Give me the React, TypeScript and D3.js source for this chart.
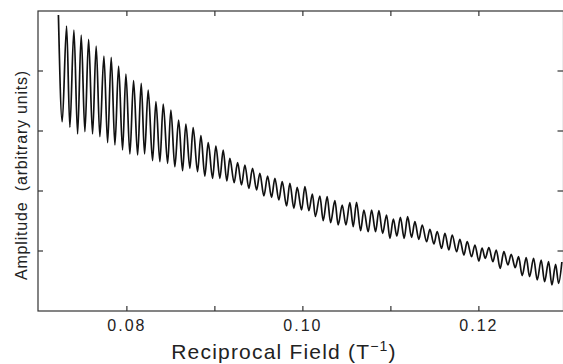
import { line, curveMonotoneX, scaleLinear } from "d3";

// extrema of the oscillation trace (x in T^-1, y arbitrary)
const startPoint: [number, number] = [0.07222, 4.933];
const endPoint: [number, number] = [0.12943, 0.817];

const troughX = [
  0.07265, 0.07352, 0.0744, 0.07523, 0.0761, 0.07693, 0.07781, 0.07864, 0.07951, 0.08034,
  0.08122, 0.08201, 0.08292, 0.08375, 0.08463, 0.08545, 0.08633, 0.08716, 0.08803, 0.08886,
  0.08974, 0.09057, 0.09136, 0.09219, 0.09303, 0.09386, 0.09474, 0.09557, 0.09644, 0.09727,
  0.09815, 0.09898, 0.09985, 0.10068, 0.10142, 0.10231, 0.10315, 0.10401, 0.10489, 0.10572,
  0.10656, 0.10742, 0.10826, 0.10906, 0.10989, 0.11068, 0.11151, 0.11235, 0.11318, 0.11406,
  0.11489, 0.11576, 0.11659, 0.11747, 0.1183, 0.11917, 0.12, 0.12072, 0.12159, 0.12242,
  0.1233, 0.12413, 0.12492, 0.12576, 0.12663, 0.12747, 0.1283, 0.12906,
];
const troughY = [
  3.155, 3.062, 2.95, 2.988, 2.95, 2.905, 2.805, 2.767, 2.683, 2.617,
  2.6, 2.617, 2.505, 2.488, 2.462, 2.405, 2.338, 2.378, 2.322, 2.25,
  2.212, 2.212, 2.167, 2.138, 2.1, 2.045, 2.017, 1.917, 1.895, 1.85,
  1.75, 1.712, 1.683, 1.672, 1.575, 1.505, 1.472, 1.433, 1.433, 1.405,
  1.338, 1.322, 1.322, 1.295, 1.212, 1.25, 1.212, 1.228, 1.195, 1.155,
  1.117, 1.045, 1.017, 0.988, 0.933, 0.905, 0.833, 0.878, 0.822, 0.712,
  0.767, 0.722, 0.588, 0.572, 0.517, 0.488, 0.433, 0.462,
];

const peakX = [
  0.07315, 0.07398, 0.07481, 0.07565, 0.07651, 0.07739, 0.07822, 0.07906, 0.07989, 0.08076,
  0.08163, 0.08242, 0.0833, 0.08413, 0.085, 0.08588, 0.0867, 0.08753, 0.08841, 0.08924,
  0.09011, 0.09094, 0.0917, 0.09258, 0.09341, 0.09428, 0.09511, 0.09599, 0.09682, 0.09765,
  0.09852, 0.09935, 0.10023, 0.10108, 0.10193, 0.10276, 0.10364, 0.10447, 0.10534, 0.1061,
  0.10693, 0.10781, 0.10864, 0.10951, 0.11028, 0.11108, 0.1119, 0.11273, 0.11356, 0.11443,
  0.11526, 0.11614, 0.11697, 0.11784, 0.11867, 0.11955, 0.12036, 0.12114, 0.12197, 0.12284,
  0.12367, 0.12451, 0.12538, 0.12622, 0.12708, 0.12792, 0.12872,
];
const peakY = [
  4.75, 4.683, 4.6, 4.528, 4.417, 4.25, 4.228, 4.083, 3.95, 3.838,
  3.795, 3.683, 3.488, 3.45, 3.35, 3.183, 3.117, 3.055, 2.922, 2.805,
  2.75, 2.683, 2.545, 2.472, 2.433, 2.378, 2.295, 2.25, 2.212, 2.155,
  2.128, 2.062, 2.072, 1.95, 1.917, 1.905, 1.838, 1.767, 1.805, 1.812,
  1.683, 1.683, 1.672, 1.6, 1.533, 1.562, 1.572, 1.488, 1.433, 1.362,
  1.322, 1.295, 1.267, 1.195, 1.155, 1.1, 1.05, 1.055, 1.017, 0.988,
  0.945, 0.905, 0.888, 0.878, 0.85, 0.822, 0.778,
];

const xTicks = [0.08, 0.09, 0.1, 0.11, 0.12];
const xTickLabels = ["0.08", "", "0.10", "", "0.12"];
const yTicks = [1, 2, 3, 4];

const W = 563;
const H = 364;
const FONT = "'Liberation Sans', Arial, Helvetica, sans-serif";

export default function App() {
  const left = 38;
  const right = 563.5;
  const top = 11;
  const bottom = 311;

  const x = scaleLinear().domain([0.0699, 0.0699 + (right - left) / 8800]).range([left, right]);
  const y = scaleLinear().domain([0, 5]).range([bottom, top]);

  const points: [number, number][] = [startPoint];
  troughX.forEach((tx, i) => {
    points.push([tx, troughY[i]]);
    if (i < peakX.length) points.push([peakX[i], peakY[i]]);
  });
  points.push(endPoint);
  points.sort((a, b) => a[0] - b[0]);

  const path = line<[number, number]>()
    .x((d) => x(d[0]))
    .y((d) => y(d[1]))
    .curve(curveMonotoneX)(points);

  const axisColor = "#333";
  const tickLen = 5;

  return (
    <svg
      width={W}
      height={H}
      viewBox={`0 0 ${W} ${H}`}
      style={{ position: "absolute", left: 0, top: 0, background: "#fff" }}
    >
      <rect x={left} y={top} width={right - left} height={bottom - top} fill="none" stroke={axisColor} strokeWidth={1.2} />
      {xTicks.map((t) => (
        <g key={t}>
          <line x1={x(t)} x2={x(t)} y1={bottom} y2={bottom - tickLen} stroke={axisColor} strokeWidth={1.2} />
          <line x1={x(t)} x2={x(t)} y1={top} y2={top + tickLen} stroke={axisColor} strokeWidth={1.2} />
        </g>
      ))}
      {yTicks.map((t) => (
        <g key={t}>
          <line x1={left} x2={left + tickLen} y1={y(t)} y2={y(t)} stroke={axisColor} strokeWidth={1.2} />
          <line x1={right - tickLen - 1} x2={right} y1={y(t)} y2={y(t)} stroke={axisColor} strokeWidth={1.2} />
        </g>
      ))}
      {xTicks.map((t, i) =>
        xTickLabels[i] ? (
          <text
            key={`l${t}`}
            x={x(t)}
            y={331}
            textAnchor="middle"
            fontFamily={FONT}
            fontSize={16}
            letterSpacing={2}
            fill="#222"
          >
            {xTickLabels[i]}
          </text>
        ) : null,
      )}
      <text x={284} y={359} textAnchor="middle" fontFamily={FONT} fontSize={21} letterSpacing={1.2} fill="#222">
        Reciprocal Field  (T
        <tspan fontSize={14} dy={-8}>
          −1
        </tspan>
        <tspan dy={8}>)</tspan>
      </text>
      <text
        transform={`translate(27,175) rotate(-90)`}
        textAnchor="middle"
        fontFamily={FONT}
        fontSize={16}
        letterSpacing={0.8}
        fill="#222"
        style={{ whiteSpace: "pre" }}
      >
        {"Amplitude  (arbitrary units)"}
      </text>
      <path d={path ?? ""} fill="none" stroke="#111" strokeWidth={1.7} strokeLinejoin="round" />
    </svg>
  );
}
